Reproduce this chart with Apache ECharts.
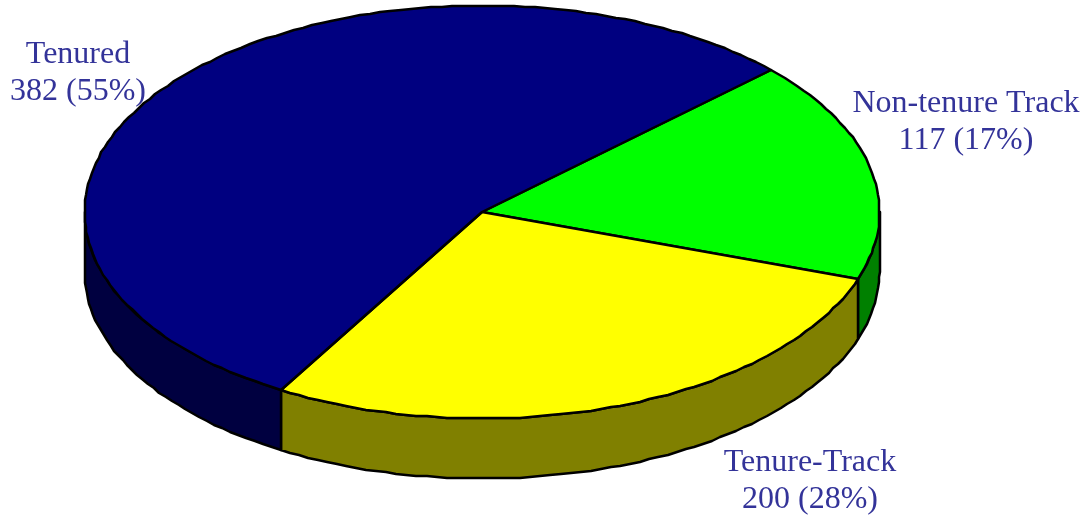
<!DOCTYPE html>
<html>
<head>
<meta charset="utf-8">
<style>html,body{margin:0;padding:0;background:#fff}#c{width:1091px;height:517px}</style>
<script src="https://cdn.jsdelivr.net/npm/echarts@6/dist/echarts.min.js"></script>
</head>
<body>
<div id="c"></div>
<script>
const categories = ['Non-tenure Track', 'Tenure-Track', 'Tenured'];
const counts = [117, 200, 382];
const percentLabels = ['17%', '28%', '55%'];
// share of the full turn each slice occupies
const sliceShares = [17.3, 28.2, 54.5];

const topColors = ['#00ff00', '#ffff00', '#000080'];
const wallColors = ['#008000', '#808000', '#000040'];
const labelCenters = [[966, 122], [810, 481], [78, 73]];
const pie = { cx: 482, cy: 212, rx: 397.5, ry: 206.5, depth: 60, startDeg: 43.4, stepDeg: 1.5 };

function sliceRange(i) {
  let before = 0;
  for (let k = 0; k < i; k++) before += sliceShares[k];
  const a0 = pie.startDeg - before / 100 * 360;
  return [a0, a0 - sliceShares[i] / 100 * 360];
}
function pt(deg, dy) {
  const r = deg * Math.PI / 180;
  return [Math.round(pie.cx + pie.rx * Math.cos(r)), Math.round(pie.cy - pie.ry * Math.sin(r) + dy)];
}
function arc(from, to, dy) {
  const out = [];
  const n = Math.max(1, Math.ceil(Math.abs(to - from) / pie.stepDeg));
  for (let i = 0; i <= n; i++) out.push(pt(from + (to - from) * i / n, dy));
  return out;
}
function renderWall(params, api) {
  const i = params.dataIndex;
  const [a0, a1] = sliceRange(i);
  const from = Math.min(a0, 0);
  const to = Math.max(a1, -180);
  if (from <= to) return { type: 'group', children: [] };
  const points = arc(from, to, 0).concat(arc(to, from, pie.depth));
  return {
    type: 'polygon',
    shape: { points },
    style: { fill: wallColors[i], stroke: '#000', lineWidth: 2.5, lineJoin: 'round' }
  };
}
function renderTop(params, api) {
  const i = params.dataIndex;
  const [a0, a1] = sliceRange(i);
  const points = [[pie.cx, pie.cy]].concat(arc(a0, a1, 0));
  return {
    type: 'group',
    children: [
      { type: 'polygon', shape: { points },
        style: { fill: topColors[i], stroke: '#000', lineWidth: 2.5, lineJoin: 'round' } },
      { type: 'text', x: labelCenters[i][0], y: labelCenters[i][1],
        style: {
          text: categories[i] + '\n' + api.value(0) + ' (' + percentLabels[i] + ')',
          font: '32px "Liberation Serif"', fill: '#333399',
          align: 'center', verticalAlign: 'middle', lineHeight: 37
        } }
    ]
  };
}
const chart = echarts.init(document.getElementById('c'), null, { renderer: 'canvas' });
chart.setOption({
  animation: false,
  backgroundColor: '#ffffff',
  series: [
    { type: 'custom', coordinateSystem: 'none', renderItem: renderWall, data: counts.map(v => [v]), silent: true, z: 1 },
    { type: 'custom', coordinateSystem: 'none', renderItem: renderTop, data: counts.map(v => [v]), silent: true, z: 2 }
  ]
});
</script>
</body>
</html>
